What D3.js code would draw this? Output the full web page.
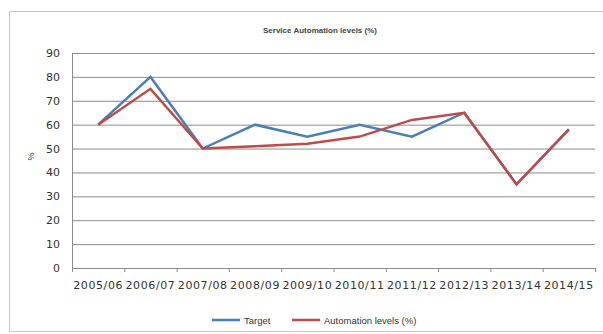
<!DOCTYPE html>
<html>
<head>
<meta charset="utf-8">
<script src="https://cdn.jsdelivr.net/npm/d3@7"></script>
<style>
  body { margin: 0; background: #fff; }
  svg { font-family: "Liberation Sans", Arial, sans-serif; }
</style>
</head>
<body>
<div id="chart"></div>
<script>
var years = ["2005/06", "2006/07", "2007/08", "2008/09", "2009/10", "2010/11", "2011/12", "2012/13", "2013/14", "2014/15"]
var target = [60, 80, 50, 60, 55, 60, 55, 65, 35, 58]
var automation = [60, 75, 50, 51, 52, 55, 62, 65, 35, 58]
var yTicks = [0, 10, 20, 30, 40, 50, 60, 70, 80, 90]

var W = 603, H = 334
var margin = {top: 53, right: 8, bottom: 66, left: 72},
    width = W - margin.left - margin.right,
    height = H - margin.top - margin.bottom

var svg = d3.select("#chart").append("svg")
    .attr("width", W)
    .attr("height", H)

// chart border
svg.append("rect")
  .attr("x", 9.5).attr("y", 11.5)
  .attr("width", 600).attr("height", 320)
  .attr("fill", "#fff")
  .attr("stroke", "#c8c8c8")

svg.append("text")
  .attr("x", 320).attr("y", 33)
  .attr("text-anchor", "middle")
  .style("font-size", "8px")
  .style("font-weight", "bold")
  .attr("fill", "#444")
  .text("Service Automation levels (%)")

var g = svg.append("g")
    .attr("transform", "translate(" + margin.left + "," + margin.top + ")")

var x = d3.scaleBand().domain(years).range([0, width])
var y = d3.scaleLinear().domain([0, 90]).range([height, 0])

// gridlines
g.selectAll(".grid").data(yTicks.slice(1)).enter().append("line")
  .attr("x1", 0).attr("x2", width)
  .attr("y1", function(d) { return y(d) + 0.5 })
  .attr("y2", function(d) { return y(d) + 0.5 })
  .attr("stroke", "#8c8c8c")
  .attr("stroke-width", 1)

var yAxis = g.append("g")
  .call(d3.axisLeft(y).tickValues(yTicks).tickSize(0).tickPadding(12))
yAxis.select(".domain").attr("stroke", "#8c8c8c")
yAxis.selectAll("text")
  .style("font-family", "DejaVu Sans")
  .style("font-size", "11px").attr("fill", "#333")

var xAxis = g.append("g")
  .attr("transform", "translate(0," + height + ")")
  .call(d3.axisBottom(x).tickSize(0).tickPadding(13))
xAxis.select(".domain").attr("stroke", "#8c8c8c")
xAxis.selectAll("text")
  .style("font-family", "DejaVu Sans")
  .style("font-size", "11px")
  .style("letter-spacing", "0.6px")
  .attr("fill", "#333")

// x tick marks between categories
g.selectAll(".xtick").data(d3.range(years.length + 1)).enter().append("line")
  .attr("x1", function(i) { return i * x.step() + 0.5 })
  .attr("x2", function(i) { return i * x.step() + 0.5 })
  .attr("y1", height).attr("y2", height + 4)
  .attr("stroke", "#8c8c8c")

g.append("text")
  .attr("transform", "rotate(-90)")
  .attr("x", -height / 2 + 4)
  .attr("y", -38)
  .attr("text-anchor", "middle")
  .style("font-size", "9px")
  .attr("fill", "#333")
  .text("%")

var line = d3.line()
  .x(function(d, i) { return x(years[i]) + x.bandwidth() / 2 })
  .y(function(d) { return y(d) })

g.append("path").datum(target)
  .attr("fill", "none")
  .attr("stroke", "#4a7ebb")
  .attr("stroke-width", 2.5)
  .attr("d", line)

g.append("path").datum(automation)
  .attr("fill", "none")
  .attr("stroke", "#be4b48")
  .attr("stroke-width", 2.5)
  .attr("d", line)

// legend
var legend = svg.append("g").attr("transform", "translate(0,320)")
var items = [{name: "Target", color: "#4a7ebb", x: 212}, {name: "Automation levels (%)", color: "#be4b48", x: 292}]
items.forEach(function(it) {
  legend.append("line")
    .attr("x1", it.x).attr("x2", it.x + 28)
    .attr("y1", 0).attr("y2", 0)
    .attr("stroke", it.color).attr("stroke-width", 2.5)
  legend.append("text")
    .attr("x", it.x + 32).attr("y", 3.5)
    .style("font-size", "9.5px")
    .attr("fill", "#333")
    .text(it.name)
})
</script>
</body>
</html>
